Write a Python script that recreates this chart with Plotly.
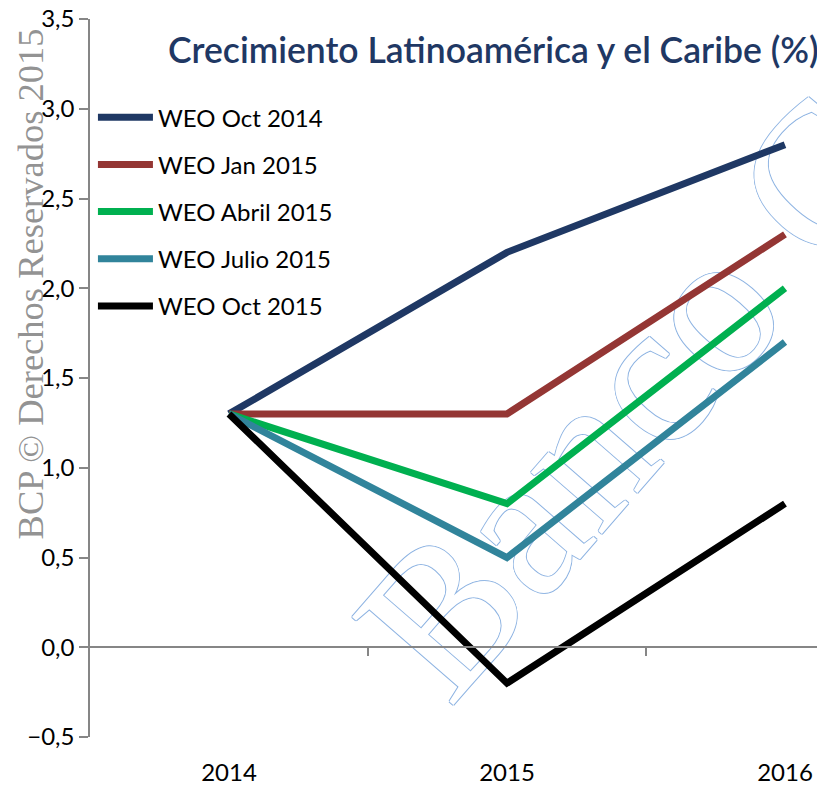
import plotly.graph_objects as go

years = ["2014", "2015", "2016"]
series_names = ["WEO Oct 2014", "WEO Jan 2015", "WEO Abril 2015", "WEO Julio 2015", "WEO Oct 2015"]
weo_oct_2014 = [1.3, 2.2, 2.8]
weo_jan_2015 = [1.3, 1.3, 2.3]
weo_abr_2015 = [1.3, 0.8, 2.0]
weo_jul_2015 = [1.3, 0.5, 1.7]
weo_oct_2015 = [1.3, -0.2, 0.8]
colors = ["#1F3864", "#943634", "#00B050", "#31849B", "#000000"]
title_text = "Crecimiento Latinoamérica y el Caribe (%)"
watermark_text = "BCP © Derechos Reservados 2015"
watermark2_text = "Banco Central"

all_series = [weo_oct_2014, weo_jan_2015, weo_abr_2015, weo_jul_2015, weo_oct_2015]
xpos = list(range(len(years)))

fig = go.Figure()
for i, (name, vals, col) in enumerate(zip(series_names, all_series, colors)):
    fig.add_trace(go.Scatter(
        x=xpos, y=vals, name=name, mode="lines",
        line=dict(color=col, width=7),
        legendgroup=f"g{i}",
    ))
# helper trace for the zero-line axis
fig.add_trace(go.Scatter(x=[], y=[], xaxis="x2", showlegend=False, hoverinfo="skip"))

AX = "#868686"
FONT = "Lato"
BLUE = "#8DB3E2"

fig.update_layout(
    width=817, height=777,
    margin=dict(l=82, r=0, t=11, b=48, autoexpand=False),
    paper_bgcolor="white", plot_bgcolor="white",
    separators=",.",
    font=dict(family=FONT, size=24, color="black"),
    showlegend=True,
    legend=dict(
        x=0.004, y=0.894, xanchor="left", yanchor="top",
        font=dict(family=FONT, size=24, color="black"),
        bgcolor="rgba(0,0,0,0)", tracegroupgap=13,
        traceorder="grouped", itemwidth=55,
    ),
    xaxis=dict(
        range=[-0.5, 2.144], tickvals=xpos, ticktext=years,
        showline=False, ticks="", showgrid=False, zeroline=False,
        tickfont=dict(family=FONT, size=24, color="black"),
        ticklabelstandoff=19, automargin=False, ticklabeloverflow="allow",
    ),
    xaxis2=dict(
        overlaying="x", anchor="free", position=(737 - 647) / 718,
        range=[-0.5, 2.144], tickvals=[0.5, 1.5],
        showticklabels=False, ticks="outside", ticklen=8, tickwidth=1.5,
        tickcolor=AX, showline=True, linecolor=AX, linewidth=1.5,
        showgrid=False, zeroline=False, automargin=False,
    ),
    yaxis=dict(
        range=[-0.5, 3.5], dtick=0.5, tick0=0, tickformat=".1f",
        showline=True, linecolor=AX, linewidth=1.5,
        ticks="outside", ticklen=9, tickwidth=1.5, tickcolor=AX,
        showgrid=False, zeroline=False, automargin=False,
        ticklabeloverflow="allow",
        tickfont=dict(family=FONT, size=24, color="black"),
    ),
)

fig.add_annotation(
    text=title_text, xref="paper", yref="paper",
    x=0.994, y=0.957, xanchor="right", yanchor="middle", showarrow=False,
    font=dict(family=FONT, size=35.5, color="#1F3864", weight=600),
)
fig.add_annotation(
    text=watermark_text, xref="paper", yref="paper",
    x=-0.081, y=0.631, xanchor="center", yanchor="middle", showarrow=False,
    textangle=-90,
    font=dict(family="Liberation Serif", size=36.5, color="rgba(128,128,128,0.85)"),
)
fig.add_shape(
    type="rect", xref="x", yref="y", x0=1.89, x1=1.98, y0=2.42, y1=2.51,
    line=dict(width=0), fillcolor="rgba(0,0,0,0)", layer="below",
    label=dict(
        text=watermark2_text, textangle=-49, textposition="middle center",
        font=dict(family="Liberation Serif", size=205, color="white",
                  shadow=f"1px 0 0 {BLUE}, -1px 0 0 {BLUE}, 0 1px 0 {BLUE}, 0 -1px 0 {BLUE}"),
    ),
)

fig.write_html("out.html")
